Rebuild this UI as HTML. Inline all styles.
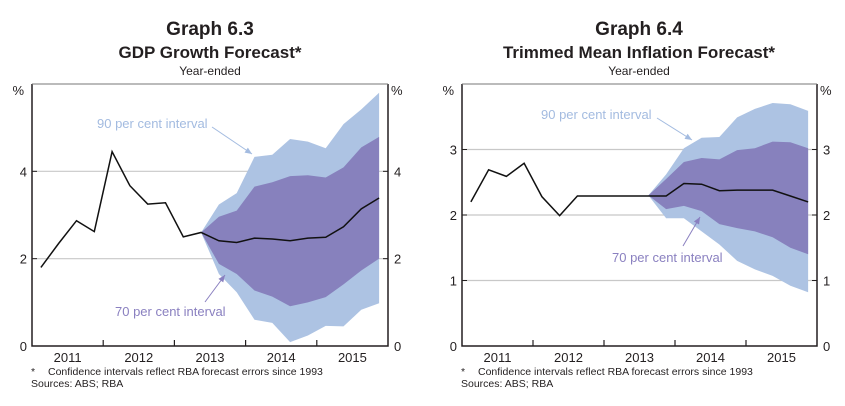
<!DOCTYPE html>
<html><head><meta charset="utf-8"><style>
body{margin:0;background:#fff;}
svg{display:block;font-family:"Liberation Sans",Arial,sans-serif;}
</style></head><body>
<svg id="svg" width="845" height="406" viewBox="0 0 845 406" xmlns="http://www.w3.org/2000/svg">
<g text-anchor="middle" fill="#231f20">
<text x="210" y="35" font-size="19" font-weight="bold">Graph 6.3</text>
<text x="210" y="58" font-size="17" font-weight="bold">GDP Growth Forecast*</text>
<text x="210" y="75" font-size="12">Year-ended</text>
</g>
<g text-anchor="middle" fill="#231f20">
<text x="639" y="35" font-size="19" font-weight="bold">Graph 6.4</text>
<text x="639" y="58" font-size="17" font-weight="bold">Trimmed Mean Inflation Forecast*</text>
<text x="639" y="75" font-size="12">Year-ended</text>
</g>
<g font-size="10.5" fill="#231f20">
<text x="31" y="375">*</text>
<text x="48" y="375">Confidence intervals reflect RBA forecast errors since 1993</text>
<text x="31" y="387">Sources: ABS; RBA</text>
</g>
<g font-size="10.5" fill="#231f20">
<text x="461" y="375">*</text>
<text x="478" y="375">Confidence intervals reflect RBA forecast errors since 1993</text>
<text x="461" y="387">Sources: ABS; RBA</text>
</g>
</svg>
<script>
const years = ["2011","2012","2013","2014","2015"];
// GDP (quarterly, 2011Q1..2015Q4)
const gdpLine = [1.8,2.35,2.87,2.62,4.45,3.67,3.25,3.28,2.5,2.6,2.41,2.37,2.47,2.45,2.41,2.47,2.49,2.73,3.14,3.39];
const gdpBandStart = 9;
const gdp90Upper = [2.6,3.24,3.5,4.33,4.38,4.74,4.68,4.53,5.08,5.42,5.8];
const gdp70Upper = [2.6,2.96,3.1,3.65,3.75,3.89,3.91,3.86,4.09,4.55,4.79];
const gdp70Lower = [2.6,1.88,1.65,1.27,1.13,0.91,1.0,1.12,1.41,1.73,2.0];
const gdp90Lower = [2.6,1.65,1.23,0.6,0.53,0.09,0.24,0.46,0.45,0.83,0.98];
const gdpTicks = [0,2,4];
// Inflation
const infLine = [2.2,2.69,2.59,2.79,2.28,1.99,2.29,2.29,2.29,2.29,2.29,2.29,2.48,2.47,2.37,2.38,2.38,2.38,2.29,2.2];
const infBandStart = 10;
const inf90Upper = [2.3,2.62,3.02,3.18,3.19,3.49,3.62,3.71,3.69,3.59];
const inf70Upper = [2.3,2.55,2.81,2.87,2.85,2.99,3.02,3.12,3.11,3.02];
const inf70Lower = [2.3,2.09,2.14,2.06,1.86,1.8,1.75,1.66,1.5,1.4];
const inf90Lower = [2.3,1.95,1.95,1.75,1.55,1.3,1.17,1.07,0.92,0.82];
const infTicks = [0,1,2,3];

const NS="http://www.w3.org/2000/svg";
const svg=document.getElementById('svg');
function mk(tag,attrs,parent){const e=document.createElementNS(NS,tag);for(const k in attrs)e.setAttribute(k,attrs[k]);(parent||svg).appendChild(e);return e;}

function chart(cfg){
  const g=mk('g',{});
  
  
  const L=cfg.left,R=cfg.right,T=84,B=346;
  const xq=i=>L+(R-L)*(i+0.5)/20;
  const y=v=>B-(B-T)*v/cfg.max;
  // gridlines
  cfg.ticks.forEach(t=>{
    if(t>0){const gl=mk('line',{x1:L,x2:R,y1:y(t),y2:y(t),stroke:'#c8c8c8','stroke-width':1.2},g);
      
      }
    [[L-5,'end'],[R+6,'start']].forEach(([x,a])=>{
      const tx=mk('text',{x:x,y:y(t)+5,'font-size':13,'text-anchor':a,fill:'#231f20'},g);tx.textContent=t;
      
      
    });
  });
  [[L-8,'end'],[R+3,'start']].forEach(([x,a])=>{
    const p=mk('text',{x:x,y:95,'font-size':13,'text-anchor':a,fill:'#231f20'},g);p.textContent='%';
    
    
  });
  const ptsBand=(arr)=>arr.map((v,j)=>xq(cfg.start+j)+','+y(v));
  const b90=mk('polygon',{points:ptsBand(cfg.u90).concat(ptsBand(cfg.l90).reverse()).join(' '),fill:'#adc3e3'},g);
  
  
  const b70=mk('polygon',{points:ptsBand(cfg.u70).concat(ptsBand(cfg.l70).reverse()).join(' '),fill:'#8781bd'},g);
  
  
  const ln=mk('polyline',{points:cfg.line.map((v,i)=>xq(i)+','+y(v)).join(' '),fill:'none',stroke:'#111','stroke-width':1.5},g);
  
  
  // frame
  const fr=mk('path',{d:`M${L},${T}V${B}H${R}V${T}`,fill:'none',stroke:'#231f20','stroke-width':1.5},g);
  
  
  const tp=mk('line',{x1:L,x2:R,y1:T,y2:T,stroke:'#777','stroke-width':1},g);
  
  
  cfg.ticks.forEach(t=>{const tk=mk('line',{x1:R-5,x2:R,y1:y(t),y2:y(t),stroke:'#231f20'},g);
    
    
    const tk2=mk('line',{x1:L,x2:L+5,y1:y(t),y2:y(t),stroke:'#231f20'},g);
    
    });
  years.forEach((yr,k)=>{
    if(k>0){const t=mk('line',{x1:L+(R-L)*k/5,x2:L+(R-L)*k/5,y1:B-6,y2:B,stroke:'#231f20','stroke-width':1.2},g);
      
      }
    const tx=mk('text',{x:L+(R-L)*(k+0.5)/5,y:362,'font-size':13,'text-anchor':'middle',fill:'#231f20'},g);tx.textContent=yr;
    
    
  });
  cfg.ann.forEach(a=>{
    const t=mk('text',{x:a.tx,y:a.ty,'font-size':13,fill:a.c},g);t.textContent=a.text;
    
    
    const l=mk('line',{x1:a.a[0],y1:a.a[1],x2:a.a[2],y2:a.a[3],stroke:a.c,'stroke-width':1},g);
    
    
    const dx=a.a[2]-a.a[0],dy=a.a[3]-a.a[1],d=Math.hypot(dx,dy),ux=dx/d,uy=dy/d;
    const hx=a.a[2],hy=a.a[3];
    const h=mk('polygon',{points:`${hx},${hy} ${hx-7*ux-3*uy},${hy-7*uy+3*ux} ${hx-7*ux+3*uy},${hy-7*uy-3*ux}`,fill:a.c},g);
    
    
  });
}
chart({name:'gdp-chart',left:32,right:388,max:6,ticks:gdpTicks,line:gdpLine,start:gdpBandStart,
  u90:gdp90Upper,u70:gdp70Upper,l70:gdp70Lower,l90:gdp90Lower,
  ann:[{n:'label-90-interval',text:'90 per cent interval',tx:97,ty:128,c:'#a3bbe0',a:[212,127,252,154]},
       {n:'label-70-interval',text:'70 per cent interval',tx:115,ty:316,c:'#8a80c0',a:[205,302,225,275]}]});
chart({name:'inflation-chart',left:462,right:817,max:4,ticks:infTicks,line:infLine,start:infBandStart,
  u90:inf90Upper,u70:inf70Upper,l70:inf70Lower,l90:inf90Lower,
  ann:[{n:'label-90-interval',text:'90 per cent interval',tx:541,ty:119,c:'#a3bbe0',a:[657,118,692,140]},
       {n:'label-70-interval',text:'70 per cent interval',tx:612,ty:262,c:'#8a80c0',a:[683,246,700,217]}]});
</script>
</body></html>
